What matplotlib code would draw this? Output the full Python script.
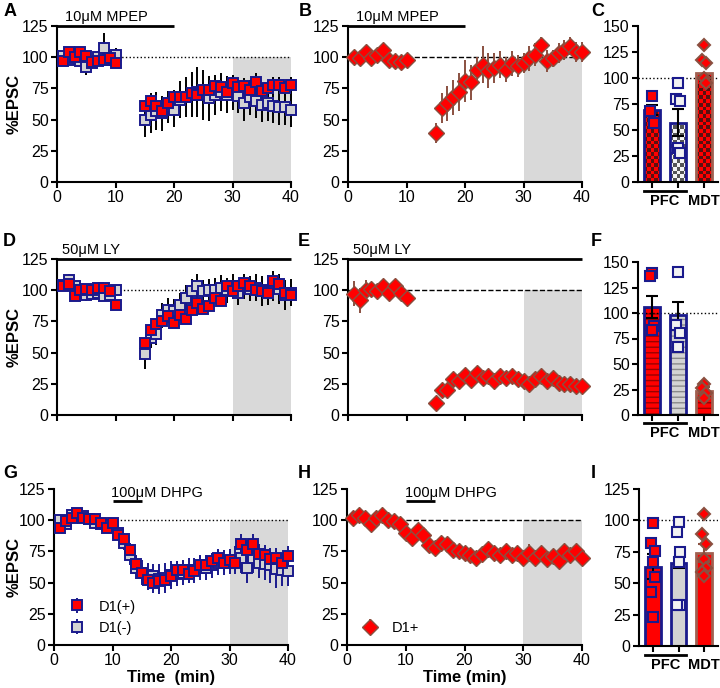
import numpy as np
import matplotlib
matplotlib.use('Agg')
import matplotlib.pyplot as plt
from matplotlib.colors import ListedColormap

plt.rcParams['font.family'] = ['Liberation Sans', 'DejaVu Sans']
plt.rcParams['font.size'] = 10
plt.rcParams['hatch.linewidth'] = 1.0

# ---- time course data ----
t_gap = list(range(1, 11)) + list(range(15, 41))
t_full = list(range(1, 41))

A_pos = [97, 104, 100, 104, 101, 96, 97, 98, 99, 95,
         61, 65, 61, 57, 63, 68, 68, 68, 71, 70, 74, 74, 77, 76, 72, 79, 76, 77, 74, 80, 73, 75, 78, 78, 75, 78]
A_pos_err = [3, 3, 3, 3, 3, 3, 3, 3, 3, 3,
             5, 6, 5, 5, 5, 6, 6, 6, 6, 6, 6, 6, 6, 6, 6, 6, 6, 6, 6, 7, 6, 6, 6, 6, 6, 6]
A_neg = [101, 98, 99, 97, 92, 95, 100, 107, 98, 102,
         50, 54, 57, 55, 60, 58, 66, 68, 70, 72, 70, 67, 70, 72, 70, 72, 69, 63, 68, 65, 62, 63, 61, 60, 60, 58]
A_neg_err = [4, 4, 4, 4, 6, 4, 5, 12, 5, 5,
             14, 15, 15, 14, 13, 14, 15, 16, 18, 20, 20, 18, 16, 15, 15, 14, 14, 14, 14, 14, 14, 14, 14, 14, 14, 14]

B_mdt = [100, 99, 104, 99, 102, 106, 98, 97, 96, 98,
         39, 59, 63, 68, 72, 81, 80, 90, 94, 89, 91, 94, 90, 95, 93, 95, 99, 102, 110, 97, 99, 103, 106, 109, 104, 104]
B_mdt_err = [3, 3, 3, 3, 3, 3, 3, 3, 3, 3,
             8, 12, 14, 14, 15, 17, 14, 10, 15, 14, 12, 11, 10, 10, 9, 8, 10, 9, 6, 9, 7, 8, 8, 7, 8, 8]

D_pos = [103, 105, 95, 100, 101, 100, 102, 102, 99, 88,
         58, 68, 73, 75, 79, 74, 80, 77, 84, 90, 85, 87, 94, 91, 103, 99, 103, 106, 103, 100, 99, 98, 107, 105, 98, 96]
D_pos_err = [3, 3, 3, 3, 3, 3, 3, 3, 3, 3,
             4, 4, 4, 4, 4, 4, 4, 4, 4, 4, 4, 4, 4, 4, 4, 4, 4, 4, 4, 4, 4, 4, 4, 4, 4, 4]
D_neg = [104, 108, 103, 100, 96, 97, 98, 95, 96, 100,
         49, 62, 65, 80, 84, 83, 88, 94, 99, 103, 99, 100, 100, 102, 100, 103, 98, 103, 101, 102, 99, 100, 103, 101, 96, 98]
D_neg_err = [4, 5, 4, 4, 5, 4, 4, 4, 4, 4,
             12, 8, 9, 10, 10, 10, 10, 10, 10, 10, 9, 9, 10, 10, 10, 10, 10, 10, 10, 11, 12, 12, 12, 12, 12, 11]

E_mdt = [97, 92, 100, 101, 99, 103, 98, 103, 98, 94,
         10, 20, 20, 29, 27, 32, 28, 34, 30, 31, 27, 31, 30, 31, 29, 27, 25, 29, 31, 27, 30, 26, 25, 25, 23, 23]
E_mdt_err = [10, 10, 8, 5, 3, 3, 4, 3, 4, 4,
             2, 3, 2, 3, 3, 3, 3, 3, 3, 3, 3, 3, 3, 3, 3, 3, 3, 3, 3, 3, 3, 3, 3, 3, 3, 3]

G_pos = [94, 99, 102, 106, 102, 101, 101, 98, 94, 98, 88, 85, 76, 65, 58, 52, 50, 51, 52, 55,
         60, 60, 57, 59, 64, 64, 67, 70, 66, 68, 66, 81, 76, 81, 73, 72, 69, 70, 66, 71]
G_pos_err = [3, 3, 3, 3, 3, 3, 3, 3, 3, 3, 4, 5, 6, 7, 8, 8, 8, 8, 8, 8,
             7, 7, 7, 7, 7, 7, 7, 7, 7, 7, 7, 8, 8, 8, 8, 8, 8, 8, 8, 8]
G_neg = [100, 97, 104, 104, 103, 101, 98, 97, 96, 96, 90, 82, 72, 62, 58, 56, 55, 53, 54, 56,
         57, 58, 60, 60, 62, 62, 64, 66, 66, 67, 68, 70, 62, 70, 66, 65, 64, 61, 60, 59]
G_neg_err = [4, 4, 4, 4, 4, 4, 4, 4, 4, 4, 5, 6, 8, 9, 10, 10, 10, 12, 12, 11,
             10, 10, 10, 10, 10, 10, 10, 10, 10, 10, 11, 12, 12, 12, 12, 13, 14, 15, 13, 12]

H_mdt = [102, 104, 102, 97, 102, 104, 100, 99, 97, 90, 86, 92, 88, 80, 78, 82, 81, 76, 75, 74,
         72, 70, 73, 77, 74, 72, 75, 72, 74, 70, 74, 70, 74, 69, 71, 67, 75, 72, 75, 70]
H_mdt_err = [3, 3, 3, 3, 3, 3, 3, 3, 3, 3, 3, 3, 3, 4, 5, 4, 4, 4, 4, 4,
             4, 4, 4, 5, 4, 4, 4, 4, 4, 4, 7, 5, 4, 4, 4, 4, 5, 5, 5, 4]

# ---- summary bar data: [PFC D1(+), PFC D1(-), MDT] ----
C_means = [69, 57, 105]
C_sems = [5, 13, 0]
C_pts = [[83, 68, 57], [95, 80, 78, 33, 28], [132, 117, 114, 100, 95]]

F_means = [106, 98, 24]
F_sems = [11, 13, 3]
F_pts = [[139, 136, 87, 83], [140, 88, 80, 67], [30, 26, 22, 17]]

I_means = [63, 66, 74]
I_sems = [10, 4, 7]
I_pts = [[98, 82, 76, 67, 55, 43, 23], [99, 91, 75, 67, 33, 33], [105, 89, 81, 69, 62, 59, 56]]

RED = '#ff0000'
NAVY = '#1a1a8c'
LGRAY = '#d3d3d3'
BROWN = '#8a5040'
SHADE = '#d9d9d9'

fig = plt.figure(figsize=(7.2, 6.88), dpi=100)


def px_axes(l, t, r, b):
    return fig.add_axes([l / 720, 1 - b / 688, (r - l) / 720, (b - t) / 688])


def style_axes(ax):
    for s in ['top', 'right']:
        ax.spines[s].set_visible(False)
    for s in ['left', 'bottom']:
        ax.spines[s].set_linewidth(1.5)
    ax.tick_params(width=1.5, length=4, labelsize=11.5, pad=2)


def time_panel(ax, xlabels, ylabel, base_ls, base_from):
    style_axes(ax)
    ax.fill_between([30, 40], 0, 100, color=SHADE, lw=0, zorder=0)
    ax.plot([base_from, 40], [100, 100], color='k', ls=base_ls, lw=1, zorder=1)
    ax.set_xlim(0, 40)
    ax.set_ylim(0, 125)
    ax.set_xticks([0, 10, 20, 30, 40])
    ax.set_yticks([0, 25, 50, 75, 100, 125])
    if not xlabels:
        ax.set_xticklabels([])
    if ylabel:
        ax.set_ylabel('%EPSC', fontsize=12, fontweight='bold')
        ax.yaxis.set_label_coords(-0.15, 0.5)


def squares(ax, t, y, e, face, ecol, label):
    ax.errorbar(t, y, yerr=e, fmt='s', ms=7.8, mfc=face, mec=NAVY, mew=1.4,
                ecolor=ecol, elinewidth=1.4, capsize=0, clip_on=False, zorder=3, label=label)


def diamonds(ax, t, y, e, label=None):
    ax.errorbar(t, y, yerr=e, fmt='D', ms=8.5, mfc=RED, mec=BROWN, mew=1.0,
                ecolor=BROWN, elinewidth=1.4, capsize=0, clip_on=False, zorder=3, label=label)


def drug_bar(ax, x0, x1, y, text, tx):
    ax.plot([x0, x1], [y, y], color='k', lw=2, clip_on=False, solid_capstyle='butt')
    ax.text(tx, y + 1.5, text, fontsize=10.5, va='bottom', ha='left')


def checker(ax, bar, c1, c2, nx=5, cell_h=3.6):
    x0, w, h = bar.get_x(), bar.get_width(), bar.get_height()
    ny = max(1, int(np.ceil(h / cell_h)))
    grid = np.indices((ny, nx)).sum(axis=0) % 2
    im = ax.imshow(grid, cmap=ListedColormap([c1, c2]), extent=(x0, x0 + w, 0, ny * cell_h),
                   origin='lower', aspect='auto', interpolation='nearest', zorder=1)
    im.set_clip_path(bar)


def bar_panel(ax, means, sems, pts, ymax, kind):
    style_axes(ax)
    x = np.arange(3)
    w = 0.62
    edges = [NAVY, NAVY, '#a06050']
    faces = [RED, LGRAY, RED]
    if kind == 'checker':
        back = ax.bar(x, means, w, color='none', edgecolor='none', zorder=1)
        pairs = [(RED, '#5a1010'), ('#f4f4f4', '#555555'), (RED, '#5a1010')]
        for b, (c1, c2) in zip(back, pairs):
            checker(ax, b, c1, c2)
    elif kind == 'hline':
        hcols = ['#9a0000', '#8a8a8a', '#9a0000']
        for i in range(3):
            ax.bar(x[i], means[i], w, color=faces[i], edgecolor=hcols[i], hatch='---', lw=0, zorder=1)
    else:
        ax.bar(x, means, w, color=faces, lw=0, zorder=1)
    ax.bar(x, means, w, fill=False, edgecolor=edges, lw=2, zorder=2)
    ax.plot([-0.55, 2.55], [100, 100], color='k', ls=':', lw=1, zorder=1.5)
    ecols = ['k', 'k', BROWN]
    for i in range(3):
        if sems[i] > 0:
            ax.errorbar(x[i], means[i], yerr=sems[i], fmt='none', ecolor=ecols[i],
                        elinewidth=1.5, capsize=4, capthick=1.5, zorder=4)
    mk = [dict(marker='s', mfc=RED, mec=NAVY), dict(marker='s', mfc='#f2f2f2', mec=NAVY),
          dict(marker='D', mfc=RED, mec=BROWN)]
    for i in range(3):
        n = len(pts[i])
        offs = np.array([(-1) ** j * 0.07 * ((j % 3) > 0) for j in range(n)])
        ax.plot(x[i] + offs, pts[i], ls='none', ms=6.5, mew=1.5, zorder=5, clip_on=False, **mk[i])
    ax.set_xlim(-0.54, 2.54)
    ax.set_ylim(0, ymax)
    ax.set_yticks(np.arange(0, ymax + 1, 25))
    ax.set_xticks(x)
    ax.set_xticklabels([])
    tr = ax.get_xaxis_transform()
    ax.plot([-0.3, 1.3], [-0.055, -0.055], color='k', lw=2, transform=tr, clip_on=False)
    ax.text(0.5, -0.075, 'PFC', transform=tr, ha='center', va='top', fontsize=10.5, fontweight='bold')
    ax.text(2, -0.075, 'MDT', transform=tr, ha='center', va='top', fontsize=10.5, fontweight='bold')


# ---- row 1 ----
axA = px_axes(57, 26, 291, 182)
time_panel(axA, True, True, ':', 10.5)
squares(axA, t_gap, A_neg, A_neg_err, LGRAY, 'k', 'D1(-)')
squares(axA, t_gap, A_pos, A_pos_err, RED, 'k', 'D1(+)')
drug_bar(axA, 0, 20, 125, '10\u03bcM MPEP', 1.3)

axB = px_axes(348, 26, 582, 182)
time_panel(axB, True, False, '--', 0)
diamonds(axB, t_gap, B_mdt, B_mdt_err)
drug_bar(axB, 0, 20, 125, '10\u03bcM MPEP', 1.3)

axC = px_axes(638, 26, 718, 182)
bar_panel(axC, C_means, C_sems, C_pts, 150, 'checker')

# ---- row 2 ----
axD = px_axes(57, 259, 291, 415)
time_panel(axD, False, True, ':', 10)
squares(axD, t_gap, D_neg, D_neg_err, LGRAY, 'k', 'D1(-)')
squares(axD, t_gap, D_pos, D_pos_err, RED, 'k', 'D1(+)')
drug_bar(axD, 0, 40, 125, '50\u03bcM LY', 0.8)

axE = px_axes(348, 259, 582, 415)
time_panel(axE, False, False, '--', 0)
diamonds(axE, t_gap, E_mdt, E_mdt_err)
drug_bar(axE, 0, 40, 125, '50\u03bcM LY', 0.8)

axF = px_axes(638, 262, 718, 415)
bar_panel(axF, F_means, F_sems, F_pts, 150, 'hline')

# ---- row 3 ----
axG = px_axes(54, 489, 288, 645)
time_panel(axG, True, True, ':', 0)
axG.yaxis.set_label_coords(-0.14, 0.5)
squares(axG, t_full, G_neg, G_neg_err, LGRAY, NAVY, 'D1(-)')
squares(axG, t_full, G_pos, G_pos_err, RED, NAVY, 'D1(+)')
drug_bar(axG, 10, 15, 115, '100\u03bcM DHPG', 9.8)
axG.set_xlabel('Time  (min)', fontsize=12, fontweight='bold', labelpad=1)
h, l = axG.get_legend_handles_labels()
axG.legend(h[::-1], l[::-1], loc='lower left', frameon=False, fontsize=10.5,
           handletextpad=0.6, borderaxespad=0.3, labelspacing=0.5, handlelength=1.8)

axH = px_axes(347, 489, 582, 645)
time_panel(axH, True, False, '--', 0)
diamonds(axH, t_full, H_mdt, H_mdt_err, 'D1+')
drug_bar(axH, 10, 15, 115, '100\u03bcM DHPG', 9.8)
axH.set_xlabel('Time (min)', fontsize=12, fontweight='bold', labelpad=1)
axH.legend(loc='lower left', frameon=False, fontsize=10.5, handletextpad=0.6,
           borderaxespad=0.3, handlelength=1.8)

axI = px_axes(639, 489, 718, 646)
bar_panel(axI, I_means, I_sems, I_pts, 125, 'solid')

# ---- panel letters ----
letters = [('A', 4, 12), ('B', 299, 12), ('C', 591, 12),
           ('D', 3, 242), ('E', 298, 242), ('F', 591, 242),
           ('G', 3, 473), ('H', 298, 473), ('I', 591, 473)]
for s, x, y in letters:
    fig.text(x / 720, 1 - y / 688, s, fontsize=13, fontweight='bold', va='center', ha='left')

fig.savefig('out.png', dpi=100)
